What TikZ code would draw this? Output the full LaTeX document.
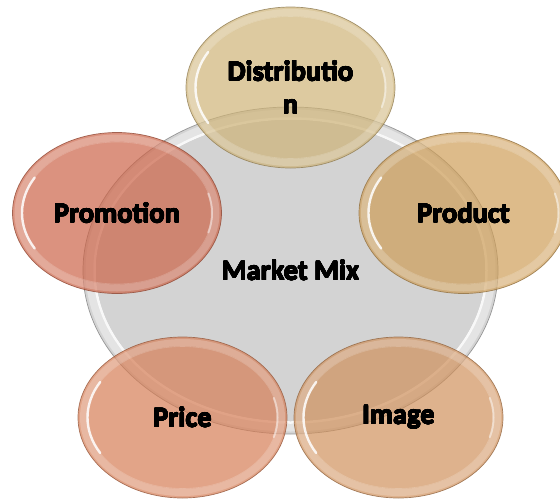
\documentclass[tikz,border=0pt]{standalone}
\usepackage{fontspec}
\setmainfont{Carlito}
\usepackage{contour}
\contourlength{0.35pt}
\contournumber{16}
\usetikzlibrary{shapes.geometric}

\definecolor{mixgray}{RGB}{211,211,211}
\definecolor{mixedge}{RGB}{150,150,150}
\definecolor{distcol}{RGB}{206,179,119}
\definecolor{promcol}{RGB}{204,100,72}
\definecolor{prodcol}{RGB}{206,158,88}
\definecolor{pricecol}{RGB}{214,126,86}
\definecolor{imagecol}{RGB}{208,145,92}

% heavy black label text
\newcommand\heavy[1]{\contour{black}{#1}}

% glossy rim and side glints of an elliptic bubble: node, inner x radius, inner y radius
\newcommand\bubblegloss[3]{%
  \draw[white, opacity=0.22, line width=7pt] (#1.center) ellipse [x radius=#2+4, y radius=#3+4];
  \draw[white, opacity=0.2, line width=0.6pt] (#1.center) ellipse [x radius=#2, y radius=#3];
  \draw[white, opacity=0.85, line width=2.4pt, line cap=round]
    (#1.center) ++(150:#2 and #3) arc [start angle=150, end angle=210, x radius=#2, y radius=#3];
  \draw[white, opacity=0.5, line width=2pt, line cap=round]
    (#1.center) ++(-16:#2 and #3) arc [start angle=-16, end angle=16, x radius=#2, y radius=#3];
}

\begin{document}
\begin{tikzpicture}[x=1pt, y=-1pt,
  labeltext/.style={font=\fontsize{28.5}{33}\selectfont\bfseries, text=black, align=center, text opacity=1},
  bubble/.style={ellipse, minimum width=209pt, minimum height=161pt, inner sep=0pt,
    fill=#1, fill opacity=0.7, draw=#1!70!black, draw opacity=0.8, line width=0.7pt, labeltext},
  hub/.style={ellipse, minimum width=415pt, minimum height=327pt, inner sep=0pt,
    fill=mixgray, draw=mixedge, line width=0.7pt, labeltext}
]
\useasboundingbox (0,0) rectangle (560,499);

% central disc with its light rim
\node[hub] (mix) at (290.5,270.5) {};
\draw[white, opacity=0.4, line width=8pt] (mix.center) ellipse [x radius=201, y radius=157];
\draw[white, opacity=0.85, line width=2.5pt] (mix.center) ellipse [x radius=196, y radius=152];
\draw[mixgray, line width=1pt] (mix.center) ellipse [x radius=194, y radius=150];
\node[labeltext] (mixlabel) at (mix.center) {\heavy{Market Mix}};

% surrounding bubbles
\node[bubble=distcol] (dist) at (290.5,87.5) {\heavy{Distributio}\\\heavy{n}};
\bubblegloss{dist}{95}{71}

\node[bubble=prodcol] (prod) at (463.5,213) {\heavy{Product}};
\bubblegloss{prod}{95}{71}

\node[bubble=imagecol] (img) at (398.5,417.5) {\heavy{Image}};
\bubblegloss{img}{95}{71}

\node[bubble=pricecol] (price) at (182.5,417.5) {\heavy{Price}};
\bubblegloss{price}{95}{71}

\node[bubble=promcol] (prom) at (117,213) {\heavy{Promotion}};
\bubblegloss{prom}{95}{71}
\end{tikzpicture}
\end{document}
